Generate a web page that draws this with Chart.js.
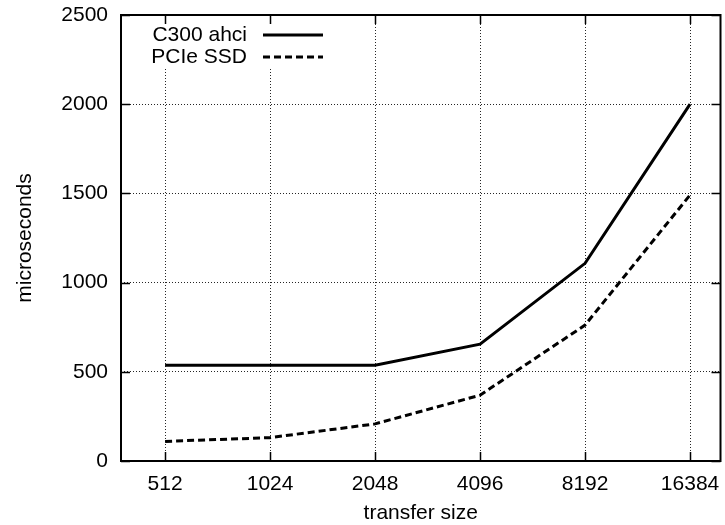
<!DOCTYPE html>
<html>
<head>
<meta charset="utf-8">
<script src="https://cdn.jsdelivr.net/npm/chart.js@4.4.1/dist/chart.umd.min.js"></script>
<style>
  html, body { margin: 0; padding: 0; background: #fff; }
  #wrap { width: 725px; height: 525px; }
</style>
</head>
<body>
<div id="wrap"><canvas id="myChart" width="725" height="525"></canvas></div>
<script>
const transferSizes = ["512", "1024", "2048", "4096", "8192", "16384"];
const c300Values = [537, 537, 537, 655, 1108, 2000];
const pcieValues = [110, 131, 208, 369, 762, 1491];
const yTicks = [0, 500, 1000, 1500, 2000, 2500];

const FONT = "'Liberation Sans', Arial, Helvetica, sans-serif";

const toPoints = (values) => values.map((v, i) => ({ x: i, y: v }));

// gnuplot style frame: border + inward ticks on all sides
const framePlugin = {
  id: "frame",
  beforeDatasetsDraw(chart) {
    const { ctx, chartArea: a, scales } = chart;
    ctx.save();
    ctx.strokeStyle = "#000";
    ctx.lineWidth = 1.5;
    ctx.beginPath();
    scales.x.ticks.forEach((t) => {
      const px = Math.round(scales.x.getPixelForValue(t.value)) + 0.5;
      ctx.moveTo(px, a.bottom);
      ctx.lineTo(px, a.bottom - 9);
      ctx.moveTo(px, a.top);
      ctx.lineTo(px, a.top + 9);
    });
    scales.y.ticks.forEach((t) => {
      const py = Math.round(scales.y.getPixelForValue(t.value)) + 0.5;
      ctx.moveTo(a.left, py);
      ctx.lineTo(a.left + 9, py);
      ctx.moveTo(a.right, py);
      ctx.lineTo(a.right - 9, py);
    });
    ctx.stroke();
    ctx.restore();
  },
  afterDatasetsDraw(chart) {
    const { ctx, chartArea: a } = chart;
    // legend (text on the left, line sample on the right)
    ctx.save();
    ctx.fillStyle = "#fff";
    ctx.fillRect(a.left + 20, a.top + 9, 210, 43);
    ctx.font = "21px " + FONT;
    ctx.fillStyle = "#000";
    ctx.textAlign = "right";
    ctx.textBaseline = "middle";
    chart.data.datasets.forEach((ds, i) => {
      const y = a.top + 20 + i * 22;
      ctx.fillText(ds.label, a.left + 126, y);
      ctx.beginPath();
      ctx.lineWidth = ds.borderWidth;
      ctx.strokeStyle = ds.borderColor;
      ctx.setLineDash(ds.borderDash || []);
      ctx.moveTo(a.left + 142, y);
      ctx.lineTo(a.left + 202, y);
      ctx.stroke();
    });
    ctx.setLineDash([]);
    ctx.lineWidth = 2;
    ctx.strokeStyle = "#000";
    ctx.strokeRect(a.left, a.top, a.right - a.left, a.bottom - a.top);
    ctx.restore();
  },
};

const ctx = document.getElementById("myChart").getContext("2d");

const chart = new Chart(ctx, {
  type: "line",
  data: {
    datasets: [
      {
        label: "C300 ahci",
        data: toPoints(c300Values),
        borderColor: "#000",
        borderWidth: 3,
        pointRadius: 0,
        tension: 0,
      },
      {
        label: "PCIe SSD",
        data: toPoints(pcieValues),
        borderColor: "#000",
        borderWidth: 3,
        borderDash: [7, 4],
        pointRadius: 0,
        tension: 0,
      },
    ],
  },
  options: {
    responsive: false,
    animation: false,
    layout: { padding: { top: 15, right: 4.5, left: 0, bottom: 0 } },
    plugins: {
      legend: { display: false },
      tooltip: { enabled: false },
    },
    scales: {
      x: {
        type: "linear",
        min: -0.42,
        max: 5.29,
        afterBuildTicks: (scale) => {
          scale.ticks = transferSizes.map((s, i) => ({ value: i }));
        },
        afterFit: (scale) => {
          scale.height = 64;
          scale.paddingLeft = 0;
          scale.paddingRight = 0;
        },
        ticks: {
          color: "#000",
          font: { family: FONT, size: 21 },
          padding: 11,
          maxRotation: 0,
          autoSkip: false,
          callback: (value) => transferSizes[value],
        },
        grid: { color: "rgba(0,0,0,0.85)", lineWidth: 1, drawTicks: false },
        border: { display: false, dash: [1, 2] },
        title: {
          display: true,
          text: "transfer size",
          color: "#000",
          font: { family: FONT, size: 21, lineHeight: 1 },
          padding: { top: 0, bottom: 1 },
        },
      },
      y: {
        min: 0,
        max: 2500,
        afterBuildTicks: (scale) => {
          scale.ticks = yTicks.map((v) => ({ value: v }));
        },
        afterFit: (scale) => {
          scale.width = 121;
          scale.paddingTop = 0;
          scale.paddingBottom = 0;
        },
        ticks: {
          color: "#000",
          font: { family: FONT, size: 21 },
          padding: 13,
          callback: (value) => String(value),
        },
        grid: { color: "rgba(0,0,0,0.85)", lineWidth: 1, drawTicks: false },
        border: { display: false, dash: [1, 2] },
        title: {
          display: true,
          text: "microseconds",
          color: "#000",
          font: { family: FONT, size: 21, lineHeight: 1 },
          padding: { top: 15, bottom: 0 },
        },
      },
    },
  },
  plugins: [framePlugin],
});
</script>
</body>
</html>
